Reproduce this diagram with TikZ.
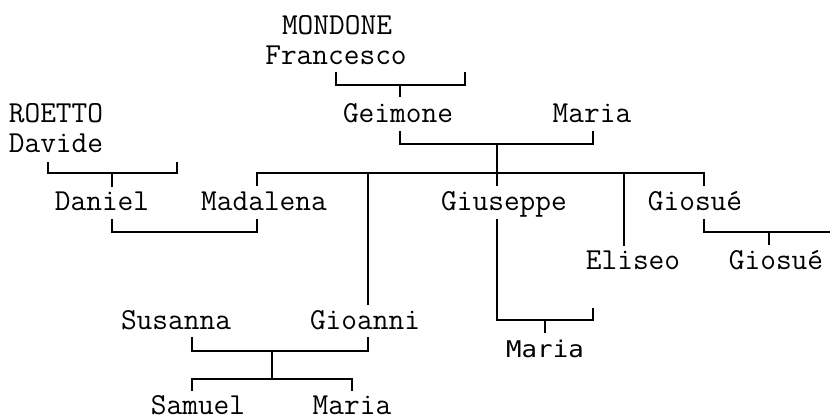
\documentclass[tikz,border=0pt]{standalone}
\usepackage{fontspec}
\newfontfamily\treesans[FakeStretch=1.12]{DejaVu Sans Mono}
\begin{document}
\begin{tikzpicture}[x=1pt,y=-1pt]
\tikzset{
  person/.style={inner sep=0pt,anchor=base,font=\ttfamily\fontsize{30.5}{30.5}\selectfont},
  personsans/.style={inner sep=0pt,anchor=base,font=\treesans\fontsize{23}{23}\selectfont},
  link/.style={draw=black,line width=1.4pt,line cap=butt,line join=miter}
}
\useasboundingbox (0,0) rectangle (830,419);
% people
\node[person] (n_Mondone) at (337,35) {MONDONE};
\node[person] (n_Francesco) at (336,65) {Francesco};
\node[person] (n_Roetto) at (56,123) {ROETTO};
\node[person] (n_Davide) at (56,153) {Davide};
\node[person] (n_Geimone) at (398,123) {Geimone};
\node[person] (n_MariaA) at (592,123) {Maria};
\node[person] (n_Daniel) at (102,211) {Daniel};
\node[person] (n_Madalena) at (264,211) {Madalena};
\node[person] (n_Giuseppe) at (504,211) {Giuseppe};
\node[person] (n_GiosueA) at (695,211) {Giosué};
\node[person] (n_Eliseo) at (633,270) {Eliseo};
\node[person] (n_GiosueB) at (776,270) {Giosué};
\node[person] (n_Susanna) at (176,330) {Susanna};
\node[person] (n_Gioanni) at (365,330) {Gioanni};
\node[personsans] (n_MariaB) at (545,358) {Maria};
\node[person] (n_Samuel) at (198,414) {Samuel};
\node[person] (n_MariaC) at (352,414) {Maria};
% bracket points
\coordinate (f_L) at (336,72);
\coordinate (f_R) at (465,72);
\coordinate (f_J) at (400,85);
\coordinate (f_T) at (400,97);
\coordinate (d_L) at (48,162);
\coordinate (d_R) at (177,162);
\coordinate (d_J) at (112,173);
\coordinate (d_T) at (112,187);
\coordinate (g_L) at (400,131);
\coordinate (g_R) at (593,131);
\coordinate (g_J) at (497,144);
\coordinate (m_L) at (257,173);
\coordinate (m_R) at (704,173);
\coordinate (m_Mad) at (257,186);
\coordinate (m_Gio) at (368,305);
\coordinate (m_Giu) at (497,186);
\coordinate (m_Eli) at (624,246);
\coordinate (m_Gis) at (704,186);
\coordinate (dm_L) at (112,219);
\coordinate (dm_R) at (257,219);
\coordinate (gp_T) at (497,219);
\coordinate (gp_R) at (593,308);
\coordinate (gp_J) at (545,320);
\coordinate (gp_C) at (545,333);
\coordinate (gs_T) at (704,219);
\coordinate (gs_R) at (830,232);
\coordinate (gs_J) at (769,232);
\coordinate (gs_C) at (769,245);
\coordinate (s_L) at (192,337);
\coordinate (s_R) at (368,337);
\coordinate (s_J) at (272,351);
\coordinate (k_J) at (272,379);
\coordinate (k_L) at (192,391);
\coordinate (k_R) at (352,391);
% links
\draw[link] (f_L) |- (f_J) -| (f_R);
\draw[link] (f_J) -- (f_T);
\draw[link] (d_L) |- (d_J) -| (d_R);
\draw[link] (d_J) -- (d_T);
\draw[link] (g_L) |- (g_J) -| (g_R);
\draw[link] (g_J) -- (m_Giu);
\draw[link] (m_Mad) -- (m_L) -- (m_R) -- (m_Gis);
\draw[link] (m_Gio |- m_L) -- (m_Gio);
\draw[link] (m_Eli |- m_L) -- (m_Eli);
\draw[link] (dm_L) |- (dm_R |- 0,232) -- (dm_R);
\draw[link] (gp_T) |- (gp_J) -| (gp_R);
\draw[link] (gp_J) -- (gp_C);
\draw[link] (gs_T) |- (gs_R);
\draw[link] (gs_J) -- (gs_C);
\draw[link] (s_L) |- (s_J) -| (s_R);
\draw[link] (s_J) -- (k_J);
\draw[link] (k_L) |- (k_J) -| (k_R);
\end{tikzpicture}
\end{document}
